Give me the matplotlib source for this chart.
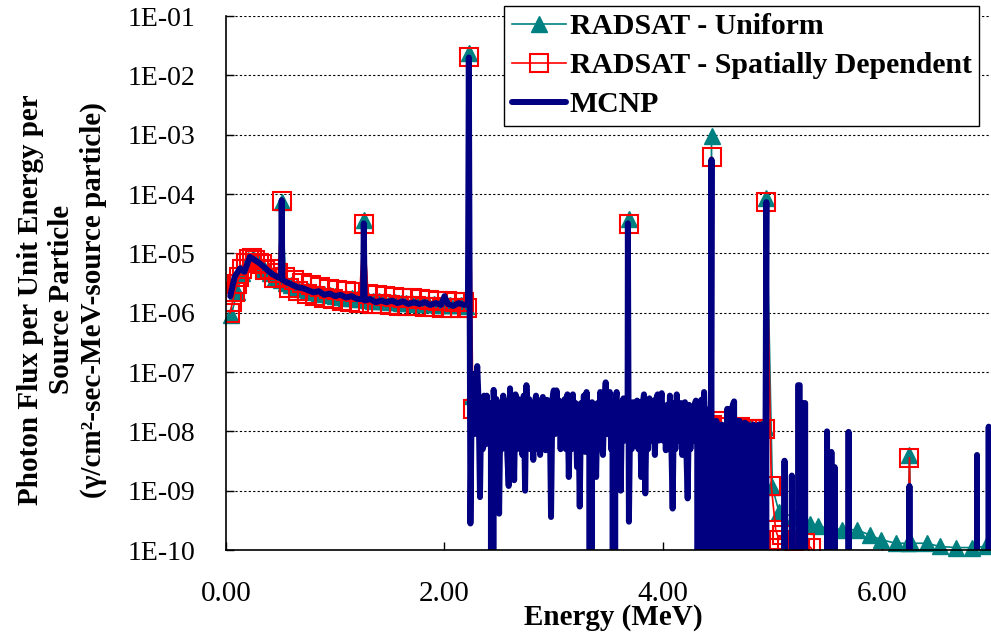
import matplotlib
matplotlib.use("Agg")
import matplotlib.pyplot as plt
from matplotlib.ticker import NullLocator

plt.rcParams["font.family"] = ["Liberation Serif", "DejaVu Serif"]
# keep every noisy MCNP bin, otherwise the band gets thinned out
plt.rcParams["path.simplify"] = False

# --- RADSAT, uniform source (MeV, flux) ---
uni_energy = [
    0.05, 0.10, 0.15, 0.20, 0.25, 0.30, 0.35, 0.40, 0.45, 0.50, 0.511, 0.55,
    0.60, 0.65, 0.70, 0.75, 0.80, 0.85, 0.90, 0.95, 1.00, 1.05, 1.10, 1.15,
    1.20, 1.25, 1.262, 1.30, 1.35, 1.40, 1.45, 1.50, 1.55, 1.60, 1.65, 1.70,
    1.75, 1.80, 1.85, 1.90, 1.95, 2.00, 2.05, 2.10, 2.15, 2.20, 2.223, 2.25,
    2.35, 2.45, 2.55, 2.65, 2.75, 2.85, 2.95, 3.05, 3.15, 3.25, 3.35, 3.45,
    3.55, 3.65, 3.675, 3.684, 3.695, 3.75, 3.85, 3.95, 4.05, 4.15, 4.25, 4.35,
    4.435, 4.443, 4.452, 4.50, 4.60, 4.70, 4.80, 4.90, 4.935, 4.945, 5.00, 5.06,
    5.20, 5.34, 5.42, 5.64, 5.77, 5.89, 5.99, 6.13, 6.24, 6.254, 6.27, 6.41,
    6.53, 6.68, 6.83, 6.95,
]
uni_flux = [
    9.0e-7, 2.2e-6, 4.6e-6, 7.8e-6, 8.3e-6, 6.8e-6, 5.5e-6, 4.6e-6, 3.9e-6, 3.5e-6, 7.4e-5, 3.2e-6,
    2.9e-6, 2.7e-6, 2.5e-6, 2.35e-6, 2.25e-6, 2.15e-6, 2.05e-6, 2.0e-6, 1.9e-6, 1.85e-6, 1.8e-6, 1.75e-6,
    1.7e-6, 1.68e-6, 3.6e-5, 1.65e-6, 1.6e-6, 1.58e-6, 1.55e-6, 1.52e-6, 1.5e-6, 1.48e-6, 1.46e-6, 1.44e-6,
    1.42e-6, 1.4e-6, 1.39e-6, 1.38e-6, 1.37e-6, 1.36e-6, 1.35e-6, 1.34e-6, 1.33e-6, 1.32e-6, 2.4e-2, 4.0e-8,
    2.4e-8, 2.3e-8, 2.2e-8, 2.2e-8, 2.1e-8, 2.1e-8, 2.0e-8, 2.0e-8, 2.0e-8, 2.0e-8, 2.2e-8, 1.9e-8,
    1.9e-8, 1.8e-8, 1.8e-8, 3.8e-5, 1.8e-8, 1.8e-8, 1.8e-8, 1.7e-8, 1.7e-8, 2.0e-8, 1.6e-8, 1.5e-8,
    1.4e-8, 9.5e-4, 1.3e-8, 1.2e-8, 1.2e-8, 1.2e-8, 1.2e-8, 1.2e-8, 1.2e-8, 8.5e-5, 1.15e-9, 4.4e-10,
    3.6e-10, 2.7e-10, 2.5e-10, 2.2e-10, 2.2e-10, 1.8e-10, 1.5e-10, 1.3e-10, 1.3e-10, 4.0e-9, 1.3e-10, 1.3e-10,
    1.15e-10, 1.1e-10, 1.1e-10, 1.15e-10,
]

# --- RADSAT, spatially dependent source ---
sd_energy = [
    0.04, 0.06, 0.08, 0.10, 0.12, 0.15, 0.18, 0.21, 0.24, 0.27, 0.30, 0.33,
    0.36, 0.40, 0.44, 0.48, 0.511, 0.54, 0.58, 0.62, 0.66, 0.70, 0.74, 0.78,
    0.82, 0.86, 0.90, 0.94, 0.98, 1.02, 1.06, 1.10, 1.14, 1.18, 1.22, 1.262,
    1.30, 1.34, 1.38, 1.42, 1.46, 1.50, 1.54, 1.58, 1.62, 1.66, 1.70, 1.74,
    1.78, 1.82, 1.86, 1.90, 1.94, 1.98, 2.02, 2.06, 2.10, 2.14, 2.18, 2.21,
    2.223, 2.26, 2.35, 2.45, 2.55, 2.65, 2.75, 2.85, 2.95, 3.05, 3.15, 3.25,
    3.35, 3.45, 3.55, 3.65, 3.675, 3.684, 3.695, 3.75, 3.85, 3.95, 4.05, 4.15,
    4.25, 4.35, 4.40, 4.435, 4.443, 4.452, 4.49, 4.60, 4.70, 4.80, 4.90, 4.935,
    4.945, 4.99, 5.03, 5.06, 5.09, 5.13, 5.20, 5.25, 5.30, 5.35, 5.45, 5.60,
    5.80, 6.00, 6.20, 6.24, 6.254, 6.27, 6.50, 6.80, 7.00,
]
sd_flux = [
    1.0e-6, 1.5e-6, 2.2e-6, 3.0e-6, 4.0e-6, 5.5e-6, 7.0e-6, 8.0e-6, 8.3e-6, 7.8e-6, 7.0e-6, 6.5e-6,
    5.2e-6, 5.4e-6, 3.9e-6, 4.6e-6, 7.5e-5, 4.0e-6, 2.6e-6, 3.6e-6, 2.3e-6, 3.2e-6, 2.1e-6, 2.9e-6,
    1.9e-6, 2.7e-6, 1.8e-6, 2.5e-6, 1.7e-6, 2.4e-6, 1.6e-6, 2.3e-6, 1.5e-6, 2.2e-6, 1.45e-6, 3.1e-5,
    2.1e-6, 1.4e-6, 2.0e-6, 1.38e-6, 1.9e-6, 1.35e-6, 1.85e-6, 1.32e-6, 1.8e-6, 1.3e-6, 1.75e-6, 1.28e-6,
    1.7e-6, 1.26e-6, 1.65e-6, 1.24e-6, 1.6e-6, 1.22e-6, 1.55e-6, 1.2e-6, 1.5e-6, 1.2e-6, 1.5e-6, 1.2e-6,
    2.0e-2, 2.4e-8, 1.6e-8, 1.5e-8, 1.5e-8, 1.5e-8, 1.4e-8, 1.4e-8, 1.4e-8, 1.3e-8, 1.3e-8, 1.3e-8,
    1.3e-8, 1.3e-8, 1.3e-8, 1.3e-8, 1.3e-8, 3.1e-5, 1.2e-8, 1.2e-8, 9.5e-9, 1.2e-8, 1.2e-8, 1.2e-8,
    1.2e-8, 1.2e-8, 1.2e-9, 1.2e-8, 4.2e-4, 1.3e-8, 1.5e-8, 1.2e-8, 1.2e-8, 1.1e-8, 1.1e-8, 1.1e-8,
    7.3e-5, 1.2e-9, 2.2e-10, 1.5e-10, 1.8e-10, 1.2e-10, 1.4e-10, 1.1e-10, 1.3e-10, 1.1e-10, 6e-11, 5e-11,
    5e-11, 5e-11, 5e-11, 5e-11, 3.6e-9, 5e-11, 5e-11, 5e-11, 5e-11,
]

# --- MCNP tally: 0-2.23 MeV continuum with the 0.511 / 1.262 / 2.223 lines ---
mcnp_low_energy = [
    0.04, 0.08, 0.13, 0.17, 0.22, 0.26, 0.30, 0.35, 0.39, 0.43, 0.47, 0.505,
    0.511, 0.517, 0.55, 0.60, 0.65, 0.70, 0.75, 0.80, 0.85, 0.90, 0.95, 1.00,
    1.05, 1.10, 1.15, 1.20, 1.255, 1.262, 1.27, 1.32, 1.37, 1.42, 1.47, 1.52,
    1.57, 1.62, 1.67, 1.72, 1.77, 1.82, 1.87, 1.92, 1.97, 2.00, 2.03, 2.08,
    2.13, 2.18, 2.215, 2.223, 2.2375,
]
mcnp_low_flux = [
    1.9e-6, 4.0e-6, 5.6e-6, 4.9e-6, 8.7e-6, 7.8e-6, 7.0e-6, 5.9e-6, 5.0e-6, 4.4e-6, 4.0e-6, 3.8e-6,
    7.9e-5, 3.6e-6, 3.3e-6, 3.0e-6, 2.7e-6, 2.6e-6, 2.4e-6, 2.2e-6, 2.3e-6, 2.0e-6, 2.1e-6, 1.9e-6,
    2.0e-6, 1.8e-6, 1.9e-6, 1.7e-6, 1.7e-6, 3.2e-5, 1.6e-6, 1.7e-6, 1.5e-6, 1.6e-6, 1.5e-6, 1.6e-6,
    1.45e-6, 1.55e-6, 1.4e-6, 1.5e-6, 1.4e-6, 1.5e-6, 1.35e-6, 1.45e-6, 1.35e-6, 1.9e-6, 1.4e-6, 1.3e-6,
    1.45e-6, 1.35e-6, 1.4e-6, 2.0e-2, 2.8e-10,
]

# --- MCNP tally: noisy 2.25-4.96 MeV region (0 = empty bin) ---
mcnp_mid_energy = [
    2.25, 2.2625, 2.275, 2.2875, 2.30, 2.3125, 2.325, 2.3375,
    2.35, 2.3625, 2.375, 2.3875, 2.40, 2.4125, 2.425, 2.4375,
    2.45, 2.4625, 2.475, 2.4875, 2.50, 2.5125, 2.525, 2.5375,
    2.55, 2.5625, 2.575, 2.5875, 2.60, 2.6125, 2.625, 2.6375,
    2.65, 2.6625, 2.675, 2.6875, 2.70, 2.7125, 2.725, 2.7375,
    2.75, 2.7625, 2.775, 2.7875, 2.80, 2.8125, 2.825, 2.8375,
    2.85, 2.8625, 2.875, 2.8875, 2.90, 2.9125, 2.925, 2.9375,
    2.95, 2.9625, 2.975, 2.9875, 3.00, 3.0125, 3.025, 3.0375,
    3.05, 3.0625, 3.075, 3.0875, 3.10, 3.1125, 3.125, 3.1375,
    3.15, 3.1625, 3.175, 3.1875, 3.20, 3.2125, 3.225, 3.2375,
    3.25, 3.2625, 3.275, 3.2875, 3.30, 3.3125, 3.325, 3.3375,
    3.35, 3.3625, 3.375, 3.3875, 3.40, 3.4125, 3.425, 3.4375,
    3.45, 3.4625, 3.475, 3.4875, 3.50, 3.5125, 3.525, 3.5375,
    3.55, 3.5625, 3.575, 3.5875, 3.60, 3.6125, 3.625, 3.6375,
    3.65, 3.6625, 3.675, 3.678, 3.6875, 3.70, 3.7125, 3.725, 3.7375,
    3.75, 3.7625, 3.775, 3.7875, 3.80, 3.8125, 3.825, 3.8375,
    3.85, 3.8625, 3.875, 3.8875, 3.90, 3.9125, 3.925, 3.9375,
    3.95, 3.9625, 3.975, 3.9875, 4.00, 4.0125, 4.025, 4.0375,
    4.05, 4.0625, 4.075, 4.0875, 4.10, 4.1125, 4.125, 4.1375,
    4.15, 4.1625, 4.175, 4.1875, 4.20, 4.2125, 4.225, 4.2375,
    4.25, 4.2625, 4.275, 4.2875, 4.30, 4.3125, 4.325, 4.3375,
    4.35, 4.3625, 4.375, 4.3875, 4.40, 4.4125, 4.425, 4.4375,
    4.443, 4.45, 4.4625, 4.475, 4.4875, 4.50, 4.5125, 4.525, 4.5375, 4.55,
    4.5625, 4.575, 4.5875, 4.60, 4.6125, 4.625, 4.6375, 4.65,
    4.6625, 4.675, 4.6875, 4.70, 4.7125, 4.725, 4.7375, 4.75,
    4.7625, 4.775, 4.7875, 4.80, 4.8125, 4.825, 4.8375, 4.85,
    4.8625, 4.875, 4.8875, 4.90, 4.9125, 4.925, 4.9375, 4.945, 4.955,
]
mcnp_mid_flux = [
    4e-8, 9.3e-8, 9e-9, 6e-8, 1.26e-7, 3e-8, 7.8e-10, 3.5e-8,
    5e-9, 4e-8, 6e-9, 4e-8, 7e-9, 3e-8, 5e-9, 0,
    5e-8, 7e-9, 3.5e-8, 5e-9, 4.1e-10, 3e-8, 5e-9, 4e-8,
    7e-9, 3.3e-8, 4e-9, 1.2e-9, 5.3e-8, 9e-9, 3.5e-8, 1.5e-9,
    4.2e-8, 5e-9, 3.5e-8, 7e-9, 2.8e-8, 4e-9, 4e-8, 1.0e-9,
    6e-8, 9e-9, 3.5e-8, 5e-9, 3e-8, 3.3e-9, 2.8e-8, 4e-8,
    5e-9, 3.3e-8, 4e-9, 3e-8, 3.8e-8, 7e-9, 4.8e-9, 3.4e-8,
    7e-9, 3e-8, 3.6e-10, 3.5e-8, 4.9e-8, 9e-9, 4.9e-8, 1e-8,
    3.3e-8, 5e-9, 3.1e-8, 7e-9, 3.5e-8, 5e-9, 4.2e-8, 1.7e-9,
    2.8e-8, 5e-9, 4.2e-8, 7e-9, 3e-8, 2.5e-9, 2.4e-8, 5.4e-10,
    3e-8, 7e-9, 4e-8, 4.5e-9, 4.6e-8, 9e-9, 2.8e-8, 0,
    3.1e-8, 5e-9, 2.8e-8, 1.7e-9, 3e-8, 6e-9, 4.6e-8, 7e-9,
    4e-9, 3e-8, 6.7e-8, 9e-9, 3.5e-8, 4.6e-8, 5e-9, 2.8e-8,
    0, 3e-8, 4.6e-8, 7e-9, 2.5e-8, 1e-9, 3e-8, 3.6e-8,
    7e-9, 3.1e-8, 9e-9, 3.2e-5, 3e-10, 2.8e-8, 5e-9, 3.1e-8, 7e-9,
    9e-9, 3.3e-8, 5e-9, 3.1e-8, 1.7e-9, 2.8e-8, 4.2e-8, 9e-10,
    3e-8, 5e-9, 3.6e-8, 7e-9, 9e-9, 3.3e-8, 4e-9, 3.5e-8,
    4.2e-8, 7e-9, 3.1e-8, 4.4e-8, 7e-9, 2.5e-8, 4.8e-9, 2.8e-8,
    5e-9, 4e-8, 7e-9, 5e-10, 3e-8, 5e-9, 4.2e-8, 9e-9,
    7e-9, 3e-8, 4e-9, 2.5e-8, 3.1e-8, 5e-9, 7.4e-10, 2.8e-8,
    5e-9, 2.5e-8, 7e-9, 2.8e-8, 3.3e-8, 5e-9, 0, 3e-8,
    3.4e-8, 7e-9, 4.6e-8, 9e-9, 0, 1.5e-8, 2.4e-8, 1e-8,
    3.8e-4, 0, 1.3e-8, 0, 1.5e-8, 0, 1.2e-8, 0, 1.3e-8, 0,
    1.2e-8, 0, 2.4e-8, 0, 2.4e-8, 0, 2.8e-8, 3.2e-8,
    0, 1.5e-8, 0, 1.5e-8, 0, 1.3e-8, 0, 1.4e-8,
    0, 1.3e-8, 0, 1.2e-8, 0, 1.3e-8, 0, 1.2e-8,
    0, 1.3e-8, 0, 1.3e-8, 0, 1.2e-8, 1.3e-8, 7.3e-5, 0,
]

# --- MCNP tally: sparse high-energy bins ---
mcnp_high_energy = [
    5.105, 5.111, 5.117, 5.172, 5.178, 5.184, 5.228, 5.235, 5.25, 5.257,
    5.278, 5.285, 5.30, 5.307, 5.493, 5.50, 5.507, 5.533, 5.54, 5.547,
    5.563, 5.57, 5.577, 5.690, 5.697, 5.704, 6.247, 6.254, 6.261, 6.865,
    6.872, 6.879, 6.972, 6.979, 6.986, 7.00,
]
mcnp_high_flux = [
    0, 3.2e-9, 0, 0, 1.8e-9, 0, 0, 6e-8, 6e-8, 0,
    0, 3e-8, 3e-8, 0, 0, 1e-8, 0, 0, 4.5e-9, 0,
    0, 2.5e-9, 0, 0, 9.8e-9, 0, 0, 1.2e-9, 0, 0,
    4e-9, 0, 0, 1.2e-8, 0, 0,
]

decades = [1e-10, 1e-9, 1e-8, 1e-7, 1e-6, 1e-5, 1e-4, 1e-3, 1e-2, 1e-1]
decade_labels = ["1E-10", "1E-09", "1E-08", "1E-07", "1E-06",
                 "1E-05", "1E-04", "1E-03", "1E-02", "1E-01"]
energy_ticks = [0, 2, 4, 6]
energy_labels = ["0.00", "2.00", "4.00", "6.00"]

mcnp_energy = mcnp_low_energy + mcnp_mid_energy + mcnp_high_energy
mcnp_flux = mcnp_low_flux + mcnp_mid_flux + mcnp_high_flux

fig = plt.figure(figsize=(9.91, 6.38), dpi=100)
ax = fig.add_axes([0.2279, 0.1379, 0.7721, 0.837])

# all uniform points sit inside the axis range; let the markers spill over the axis line
ax.plot(uni_energy, uni_flux, color="#008080", linewidth=1.2, marker="^",
        markersize=11, label="RADSAT - Uniform", clip_on=False)
ax.plot(sd_energy, sd_flux, color="#ff0000", linewidth=1.2, marker="s",
        markersize=13, markerfacecolor="none", markeredgewidth=1.5,
        label="RADSAT - Spatially Dependent")
ax.plot(mcnp_energy, mcnp_flux, color="#000080", linewidth=4.3,
        solid_joinstyle="round", solid_capstyle="round", label="MCNP")

ax.set_yscale("log")
ax.set_ylim(1e-10, 1e-1)
ax.set_xlim(0, 7.0)
ax.set_yticks(decades)
ax.set_yticklabels(decade_labels)
ax.yaxis.set_minor_locator(NullLocator())
ax.set_xticks(energy_ticks)
ax.set_xticklabels(energy_labels)

ax.tick_params(axis="both", direction="in", length=6, width=1)
ax.tick_params(axis="y", pad=22, labelsize=20)
ax.tick_params(axis="x", pad=22, labelsize=21)
ax.yaxis.grid(True, linestyle=(0, (2, 2)), color="black", linewidth=0.8)
ax.set_axisbelow(True)
for side in ("top", "right"):
    ax.spines[side].set_visible(False)
for side in ("left", "bottom"):
    ax.spines[side].set_linewidth(1.2)

leg = ax.legend(loc="upper right", bbox_to_anchor=(0.9843, 1.0187), numpoints=1,
                prop={"size": 21.4, "weight": "bold"}, frameon=True, fancybox=False,
                edgecolor="black", framealpha=1, handlelength=1.82,
                handletextpad=0.13, labelspacing=0.4, borderpad=0.25,
                borderaxespad=0)
leg.get_frame().set_linewidth(1.0)
leg.set_zorder(5)

fig.text(62 / 991, 0.53,
         "Photon Flux per Unit Energy per\nSource Particle\n(γ/cm²-sec-MeV-source particle)",
         rotation=90, ha="center", va="center", multialignment="center",
         fontsize=21, fontweight="bold")
fig.text(613 / 991, 1 - 625 / 638, "Energy (MeV)", ha="center", va="baseline",
         fontsize=21, fontweight="bold")

fig.savefig("out.png", dpi=100)
